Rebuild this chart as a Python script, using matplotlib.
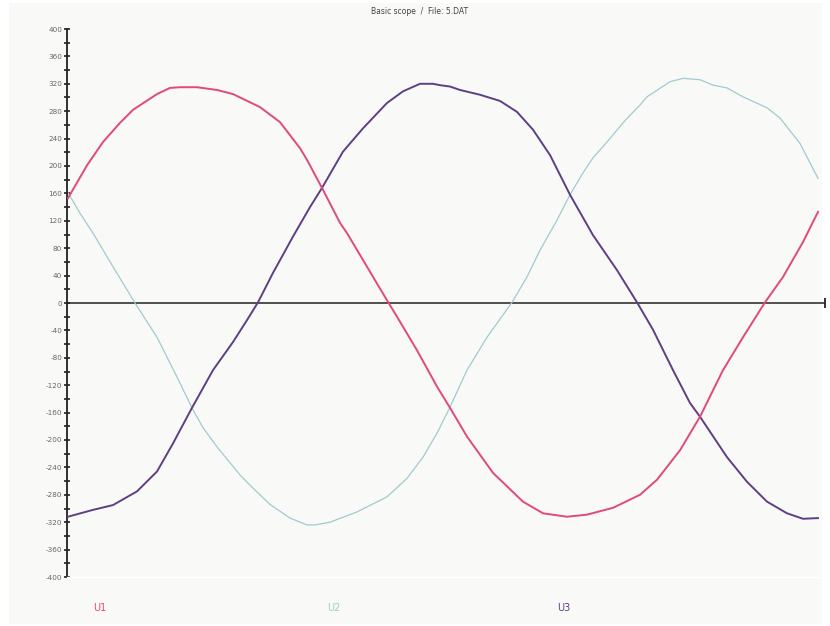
import matplotlib
matplotlib.use('Agg')
import matplotlib.pyplot as plt
from matplotlib.patches import Rectangle
from matplotlib.ticker import MultipleLocator

plt.rcParams['axes.unicode_minus'] = False

# phase voltages, sample position along the trace vs. volts
u1_t = [1, 20, 36, 53, 66, 90, 103, 113, 130, 150, 166, 193, 213, 233, 240, 255,
        273, 280, 300, 320, 330, 350, 370, 383, 400, 426, 456, 476, 500, 520, 546,
        573, 590, 613, 633, 656, 676, 698, 716, 736, 751]
u1_v = [153, 201, 235, 263, 282, 305, 314, 315, 315, 311, 305, 286, 264, 226, 209,
        168, 117, 102, 53, 4, -20, -69, -122, -153, -195, -248, -290, -307, -312,
        -309, -299, -280, -258, -215, -166, -98, -50, 1, 38, 89, 133]

u2_t = [1, 13, 26, 46, 68, 90, 110, 126, 136, 150, 173, 183, 193, 203, 223, 240,
        248, 263, 290, 320, 340, 356, 370, 383, 400, 420, 445, 460, 473, 490, 503,
        516, 526, 540, 556, 563, 573, 580, 603, 616, 633, 646, 660, 676, 700, 713,
        733, 751]
u2_v = [161, 131, 102, 53, 0, -50, -108, -156, -182, -210, -251, -266, -280, -294,
        -314, -324, -324, -320, -305, -283, -256, -225, -190, -152, -98, -50, 1, 38,
        77, 121, 158, 190, 212, 235, 263, 274, 289, 301, 323, 328, 326, 318, 314,
        301, 285, 270, 233, 182]

u3_t = [1, 26, 46, 70, 90, 106, 125, 146, 166, 180, 191, 206, 226, 243, 255, 276,
        296, 320, 336, 353, 366, 373, 383, 393, 413, 433, 450, 466, 483, 503, 526,
        550, 570, 586, 606, 623, 633, 660, 680, 700, 720, 736, 751]
u3_v = [-312, -302, -295, -275, -246, -205, -153, -98, -57, -25, 1, 44, 97, 140,
        168, 221, 255, 292, 309, 320, 320, 318, 316, 311, 304, 295, 279, 253, 216,
        158, 99, 48, 1, -39, -98, -146, -166, -225, -261, -290, -307, -315, -314]

names = ['U1', 'U2', 'U3']
colors = ['#e0497d', '#9fcbd0', '#5f3f84']
widths = [1.4, 0.9, 1.4]

W, H = 830, 626
fig = plt.figure(figsize=(W / 100, H / 100), dpi=100, facecolor='white')
fig.patches.append(Rectangle((9 / W, 2 / H), 813 / W, 621 / H, transform=fig.transFigure,
                             facecolor='#f9f9f7', edgecolor='none', zorder=-10))

ax = fig.add_axes([67 / W, (H - 577) / H, (825 - 67) / W, 548 / H])
ax.set_facecolor('none')
ax.set_xlim(0, 758)
ax.set_ylim(-400, 400)

for s in ['top', 'right']:
    ax.spines[s].set_visible(False)
ax.spines['bottom'].set_color('white')
ax.spines['bottom'].set_linewidth(1.0)
ax.spines['left'].set_color('#222222')
ax.spines['left'].set_linewidth(1.3)

ax.yaxis.set_major_locator(MultipleLocator(40))
ax.yaxis.set_minor_locator(MultipleLocator(20))
ax.tick_params(axis='y', which='major', direction='inout', length=5, width=1.2,
               color='#222222', labelsize=5.2, labelcolor='#666666', pad=1)
ax.tick_params(axis='y', which='minor', direction='inout', length=4, width=1.2,
               color='#222222')
ax.set_xticks([])
for lab in ax.get_yticklabels():
    lab.set_family(['Liberation Sans Narrow', 'DejaVu Sans'])

# zero line with end marker
ax.axhline(0, color='#222222', lw=1.1, zorder=1)
ax.plot([758], [0], marker='|', markersize=7, color='#222222', mew=1.3, clip_on=False)

ax.plot(u2_t, u2_v, color=colors[1], lw=widths[1], zorder=2)
ax.plot(u3_t, u3_v, color=colors[2], lw=widths[2], zorder=3)
ax.plot(u1_t, u1_v, color=colors[0], lw=widths[0], zorder=4)

fig.text(420 / W, 1 - 11 / H, 'Basic scope  /  File: 5.DAT', ha='center', va='center',
         fontsize=5.5, color='#444444', family=['Liberation Sans Narrow', 'DejaVu Sans'])

for name, c, x in zip(names, colors, [93, 327, 557]):
    fig.text(x / W, 1 - 608 / H, name, ha='left', va='center', fontsize=7, color=c)

fig.savefig('out.png', dpi=100, facecolor=fig.get_facecolor())
